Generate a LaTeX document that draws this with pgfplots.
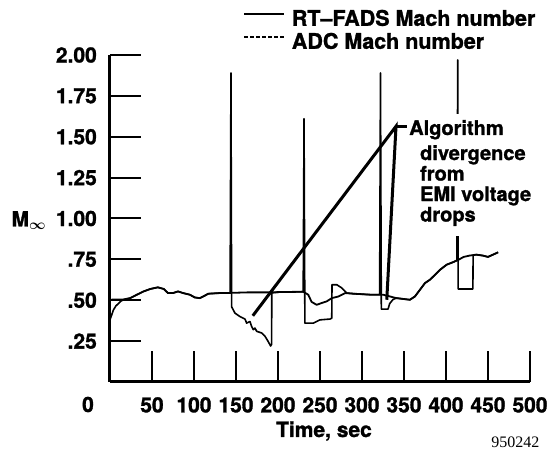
\documentclass[border=0pt]{standalone}
\usepackage{fontspec}
\setmainfont{TeX Gyre Heros}[BoldFeatures={FakeBold=1.3}]
\newfontfamily\serifnum{Liberation Serif}
\usepackage{pgfplots}
\pgfplotsset{compat=1.18}
\newcommand{\lab}{\bfseries\fontsize{21}{23}\selectfont}
\begin{document}
\begin{tikzpicture}
\useasboundingbox (-110pt,-68pt) rectangle (440pt,382pt);
\begin{axis}[
  at={(0,0)}, anchor=south west,
  scale only axis, width=420pt, height=327pt,
  xmin=0, xmax=500, ymin=0, ymax=2,
  axis lines=left,
  axis line style={-, line width=3pt},
  tick align=inside,
  major tick length=31pt,
  tick style={line width=2pt, black},
  xtick={50,100,150,200,250,300,350,400,450,500},
  xticklabels={50,100,150,200,250,300,350,400,450,500},
  ytick={0.25,0.5,0.75,1,1.25,1.5,1.75,2},
  yticklabels={.25,.50,.75,1.00,1.25,1.50,1.75,2.00},
  ticklabel style={font=\lab, inner sep=0pt},
  xticklabel style={anchor=north, yshift=-15pt},
  yticklabel style={anchor=east, xshift=-13pt},
  clip=false,
  legend image code/.code={\draw[#1] (0pt,4pt) -- (40pt,4pt);},
  legend style={at={(axis description cs:0.317,1)}, anchor=south west,
    yshift=6pt, draw=none, fill=none, inner sep=0pt,
    font=\bfseries\fontsize{21.5}{23}\selectfont,
    nodes={inner sep=0pt, text height=16pt, text depth=0pt},
    row sep=7pt, column sep=7pt},
  legend cell align=left,
]
\addlegendimage{line width=1.5pt}
\addlegendentry{RT–FADS Mach number}
\addlegendimage{line width=1.5pt, dash pattern=on 3.5pt off 2.5pt}
\addlegendentry{ADC Mach number}

% ADC Mach number
\addplot[forget plot, line width=1.8pt, line join=round] coordinates {
(0,0.503) (7,0.505) (16,0.505) (24,0.513) (32,0.534) (40,0.554) (48,0.569)
(57,0.579) (64,0.569) (69,0.544) (75,0.544) (81,0.554) (87,0.544) (95,0.534)
(101,0.517) (107,0.513) (111,0.523) (117,0.54) (131,0.544) (143,0.545)
(163,0.548) (187,0.548) (202,0.55) (230,0.552) (236,0.534) (240,0.49)
(246,0.472) (252,0.483) (258,0.493) (264,0.513) (272,0.523) (280,0.544)
(290,0.54) (300,0.537) (310,0.534) (325,0.534) (341,0.513) (357,0.503)
(363,0.523) (369,0.564) (375,0.605) (381,0.626) (385,0.646) (393,0.687)
(401,0.718) (409,0.734) (415,0.748) (421,0.765) (428,0.773) (436,0.779)
(444,0.773) (450,0.765) (456,0.779) (462,0.793)
};

% RT-FADS Mach number
\addplot[forget plot, line width=1.6pt, line join=round] coordinates {
(0,0.38) (2,0.41) (4,0.44) (7,0.465) (10,0.48) (13,0.495) (16,0.503)
(24,0.513) (32,0.534) (40,0.554) (48,0.569) (57,0.579) (64,0.569) (69,0.544)
(75,0.544) (81,0.554) (87,0.544) (95,0.534) (101,0.517) (107,0.513)
(111,0.523) (117,0.54) (131,0.544) (143,0.545)
(144,1.89) (144.8,0.46) (148.8,0.421) (154.8,0.40) (160.7,0.385)
(162.7,0.36) (166.6,0.37) (168.6,0.34) (170.6,0.32) (172.6,0.33)
(174.6,0.31) (180.5,0.30) (184.5,0.28) (188.4,0.247) (191.2,0.22)
(192.4,0.23) (192.6,0.545) (202,0.55) (215,0.55) (230,0.552)
(231,1.61) (232,0.36) (242,0.36) (250,0.38) (262,0.385) (264,0.39)
(264.3,0.595) (270,0.595) (276,0.575) (282,0.544) (290,0.54) (300,0.537)
(310,0.534) (321,0.534)
(322,1.89) (323,0.446) (331,0.446) (333,0.48) (337,0.505) (341,0.513)
(357,0.503) (363,0.523) (369,0.564) (375,0.605) (381,0.626) (385,0.646)
(393,0.687) (401,0.718) (409,0.734) (413,0.745)
(414,1.97) (414.5,0.569) (432,0.569) (432.3,0.775) (436,0.779)
(444,0.773) (450,0.765) (456,0.779) (462,0.793)
};

% annotation
\draw[line width=3pt, line join=miter] (axis cs:170,0.405) -- (axis cs:340.5,1.564) -- (axis cs:329.5,0.503);
\draw[line width=3pt] (axis cs:340.5,1.564) -- (axis cs:353.6,1.564);
\node[fill=white, align=left, anchor=north west, inner xsep=1pt, inner ysep=10pt,
  font=\bfseries\fontsize{20}{20.5}\selectfont]
  at (axis cs:367.8,1.511) {divergence\\from\\EMI voltage\\drops};
\node[fill=white, anchor=base west, inner xsep=1pt, inner ysep=6pt,
  font=\bfseries\fontsize{20}{20.5}\selectfont]
  at (axis cs:354.8,1.511) {Algorithm};

% extra labels
\node[font=\lab, anchor=center] at (rel axis cs:0,0) [xshift=-22pt, yshift=-22.5pt] {0};
\node[font=\lab, anchor=base] at (rel axis cs:0.5,0) [xshift=4pt, yshift=-55pt] {Time, sec};
\node[font=\lab, anchor=base west] at (axis cs:0,1) [xshift=-102pt, yshift=-8pt] {M{\boldmath$_\infty$}};
\node[font=\serifnum\fontsize{16}{16}\selectfont, anchor=base east] at (rel axis cs:1,0) [xshift=13pt, yshift=-66pt] {950242};
\end{axis}
\end{tikzpicture}
\end{document}
